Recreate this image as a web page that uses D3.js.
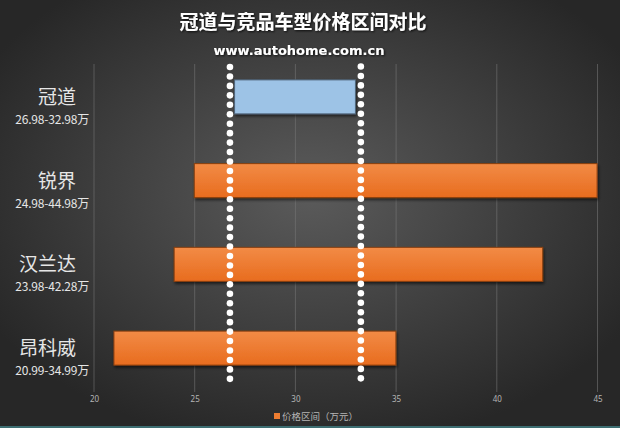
<!DOCTYPE html>
<html><head><meta charset="utf-8">
<script src="https://cdn.jsdelivr.net/npm/d3@7"></script>
<style>
html,body{margin:0;padding:0;background:#333;}
svg{display:block;font-family:"Noto Sans CJK SC","Noto Sans",sans-serif;}
</style></head>
<body>
<svg id="chart" width="620" height="428"></svg>
<script>
const categories = ["冠道", "锐界", "汉兰达", "昂科威"];
const priceLabels = ["26.98-32.98万", "24.98-44.98万", "23.98-42.28万", "20.99-34.99万"];
const minPrice = [26.98, 24.98, 23.98, 20.99];
const maxPrice = [32.98, 44.98, 42.28, 34.99];
const markerLines = [26.75, 33.25];
const xTicks = [20, 25, 30, 35, 40, 45];
const title = "冠道与竞品车型价格区间对比";
const subtitle = "www.autohome.com.cn";
const legendLabel = "价格区间（万元）";

const W = 620, H = 428;
const svg = d3.select("#chart");
const defs = svg.append("defs");

const bg = defs.append("radialGradient").attr("id","bg").attr("cx","50%").attr("cy","45%").attr("r","60%");
bg.append("stop").attr("offset","0%").attr("stop-color","#5b5b5b");
bg.append("stop").attr("offset","100%").attr("stop-color","#272727");
const og = defs.append("linearGradient").attr("id","og").attr("x1",0).attr("y1",0).attr("x2",0).attr("y2",1);
og.append("stop").attr("offset","0%").attr("stop-color","#f28b46");
og.append("stop").attr("offset","100%").attr("stop-color","#e86c1e");
const sh = defs.append("filter").attr("id","sh").attr("x","-10%").attr("y","-30%").attr("width","120%").attr("height","170%");
sh.append("feDropShadow").attr("dx",1).attr("dy",2).attr("stdDeviation",1.5).attr("flood-color","#000").attr("flood-opacity",0.6);
const tsh = defs.append("filter").attr("id","tsh");
tsh.append("feDropShadow").attr("dx",1).attr("dy",1).attr("stdDeviation",0.8).attr("flood-color","#000").attr("flood-opacity",0.8);

svg.append("rect").attr("width",W).attr("height",H).attr("fill","url(#bg)");
svg.append("rect").attr("x",0).attr("y",H-2).attr("width",W).attr("height",2).attr("fill","#3d6e72");

const x = d3.scaleLinear().domain([20,45]).range([94,597.5]);
const y = d3.scaleBand().domain(categories).range([55,390]).paddingInner(0.594).paddingOuter(0.297);

// gridlines
svg.append("g").selectAll("line").data(xTicks).join("line")
  .attr("x1",d=>x(d)).attr("x2",d=>x(d)).attr("y1",64).attr("y2",392)
  .attr("stroke","#7a7a7a").attr("stroke-opacity",0.55).attr("stroke-width",1);

// axis labels
const axis = d3.axisBottom(x).tickValues(xTicks).tickSize(0).tickPadding(0);
const ag = svg.append("g").attr("transform","translate(0,396)").call(axis);
ag.select(".domain").remove();
ag.selectAll("text").attr("fill","#b5b5b5").attr("font-size",8).attr("font-family","'Noto Sans',sans-serif");

// bars
svg.append("g").selectAll("rect").data(categories).join("rect")
  .attr("x",(d,i)=>x(minPrice[i])).attr("y",d=>y(d))
  .attr("width",(d,i)=>x(maxPrice[i])-x(minPrice[i])).attr("height",y.bandwidth())
  .attr("fill",(d,i)=>i===0?"#9dc3e6":"url(#og)")
  .attr("stroke",(d,i)=>i===0?"#50657a":"#8a3f10").attr("stroke-width",1)
  .attr("filter","url(#sh)");

// dotted marker lines
markerLines.forEach((v,k)=>{
  const ys = d3.range(67 + (k===1?-0.5:0), 380, 9.45);
  svg.append("g").selectAll("circle").data(ys).join("circle")
    .attr("cx",x(v)).attr("cy",d=>d).attr("r",3.3).attr("fill","#ffffff");
});

// category labels
const lg = svg.append("g");
lg.selectAll("text.main").data(categories).join("text").attr("class","main")
  .attr("x",76).attr("y",d=>y(d)+y.bandwidth()/2+7).attr("text-anchor","end")
  .attr("font-size",19).attr("fill","#e6e6e6").text(d=>d);
lg.selectAll("text.sub").data(categories).join("text").attr("class","sub")
  .attr("x",89).attr("y",d=>y(d)+y.bandwidth()/2+27).attr("text-anchor","end")
  .attr("font-size",12).attr("fill","#e6e6e6").attr("letter-spacing",-0.2).text((d,i)=>priceLabels[i]);

// titles
svg.append("text").attr("x",303).attr("y",29).attr("text-anchor","middle")
  .attr("font-size",19).attr("font-weight","bold").attr("fill","#ffffff").attr("filter","url(#tsh)").text(title);
svg.append("text").attr("x",299).attr("y",55).attr("text-anchor","middle")
  .attr("font-size",13).attr("font-weight","bold").attr("fill","#ffffff")
  .attr("font-family","'DejaVu Sans',sans-serif").attr("filter","url(#tsh)").text(subtitle);

// legend
svg.append("rect").attr("x",274).attr("y",413).attr("width",6).attr("height",6).attr("fill","#ed7d31");
svg.append("text").attr("x",282).attr("y",419.5).attr("font-size",9.5).attr("fill","#b5b5b5").text(legendLabel);
</script>
</body></html>
